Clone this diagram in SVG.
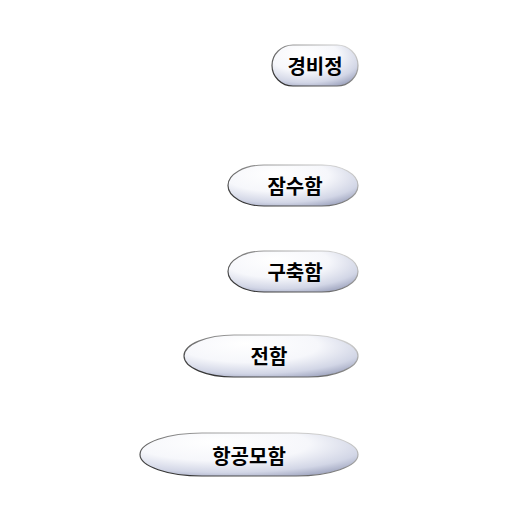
<svg xmlns="http://www.w3.org/2000/svg" width="512" height="512" viewBox="0 0 512 512">
<defs>
<radialGradient id="fill" cx="0.4" cy="0.3" r="0.8" fx="0.35" fy="0.2">
<stop offset="0" stop-color="#ffffff"/>
<stop offset="0.5" stop-color="#f6f7fb"/>
<stop offset="0.8" stop-color="#d2d6e6"/>
<stop offset="1" stop-color="#9ca2bd"/>
</radialGradient>
<linearGradient id="edge" x1="0" y1="1" x2="1" y2="0">
<stop offset="0" stop-color="#222"/>
<stop offset="0.55" stop-color="#888"/>
<stop offset="1" stop-color="#e4e4e4"/>
</linearGradient>
<style>
.pill{fill:url(#fill);stroke:url(#edge);stroke-width:1.2}
.lbl{font-family:"Noto Sans CJK KR","Noto Sans",sans-serif;font-weight:bold;font-size:20px;fill:#000;text-anchor:middle;dominant-baseline:central}
</style>
</defs>
<rect width="512" height="512" fill="#fff"/>
<g id="connectors"/>
<g id="n1">
<rect class="pill" x="272" y="45" width="86" height="41" rx="21" ry="20.5"/>
<text class="lbl" x="315" y="65">경비정</text>
</g>
<g id="n2">
<rect class="pill" x="228" y="165" width="130" height="41" rx="36" ry="20.5"/>
<text class="lbl" x="295" y="185">잠수함</text>
</g>
<g id="n3">
<rect class="pill" x="228" y="251" width="130" height="41" rx="36" ry="20.5"/>
<text class="lbl" x="295" y="271">구축함</text>
</g>
<g id="n4">
<rect class="pill" x="184" y="335" width="174" height="42" rx="50" ry="21"/>
<text class="lbl" x="269" y="355">전함</text>
</g>
<g id="n5">
<rect class="pill" x="140" y="433" width="218" height="43" rx="62" ry="21.5"/>
<text class="lbl" x="249" y="455">항공모함</text>
</g>
</svg>
